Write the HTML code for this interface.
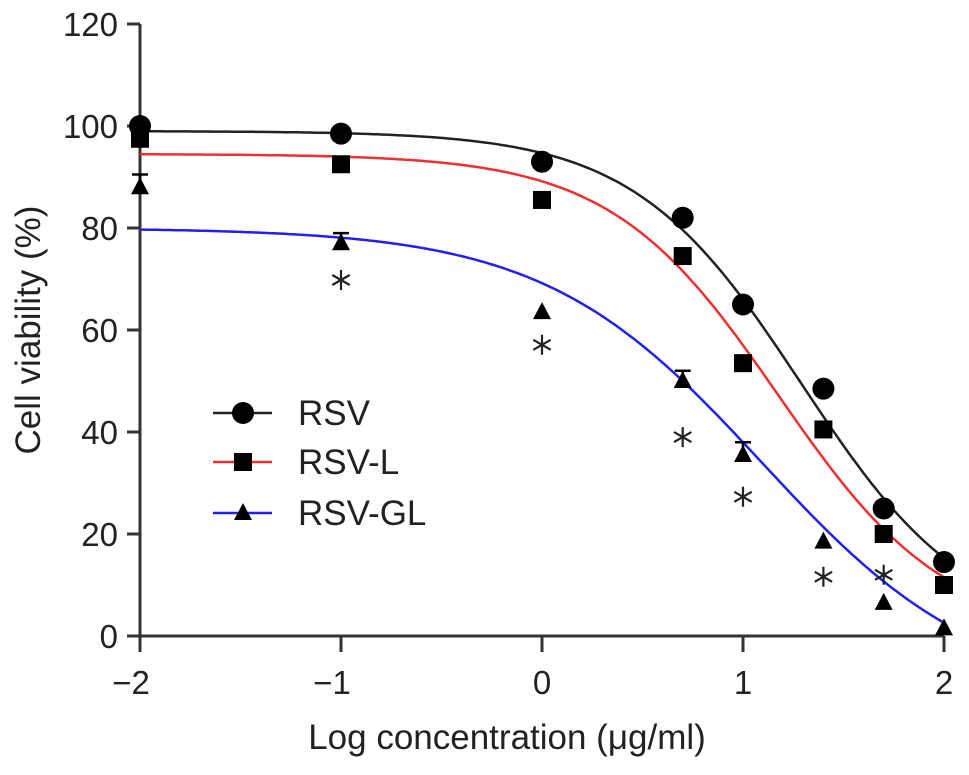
<!DOCTYPE html>
<html><head><meta charset="utf-8"><style>
body{margin:0;background:#fff}
svg text{font-family:"Liberation Sans",sans-serif;fill:#222}
</style></head><body>
<svg id="chart" width="969" height="770" viewBox="0 0 969 770" xmlns="http://www.w3.org/2000/svg">
<g id="axes"></g>
<g id="plot"></g>
<g id="legend"></g>
</svg>
<script>
const xCats = [-2, -1, 0, 0.7, 1, 1.4, 1.7, 2];
const rsvVals = [100, 98.5, 93, 82, 65, 48.5, 25, 14.5];
const rsvLVals = [97.5, 92.5, 85.5, 74.5, 53.5, 40.5, 20, 10];
const rsvGLVals = [88, 77, 63.5, 50, 35.5, 18.5, 6.5, 1.5];
const rsvGLErr = [2.5, 2, 0, 2, 2.5, 0, 0, 0];
const rsvFit = [99, 0, 1.29, 1.04];
const rsvLFit = [94.5, 0, 1.175, 1.04];
const rsvGLFit = [80, -12, 1.094, 0.8];
const starX = [-1, 0, 0.7, 1, 1.4, 1.7];
const starVals = [69.8, 57.1, 39, 27.3, 11.6, 12];
const yTicks = [0, 20, 40, 60, 80, 100, 120];
const xTicks = [-2, -1, 0, 1, 2];
const xTickLabels = ['\u22122', '\u22121', '0', '1', '2'];

const NS = 'http://www.w3.org/2000/svg';
const X = v => 140 + (v + 2) * 201;
const Y = v => 636 - v * 5.1;
function mk(tag, attrs, parent, text) {
  const e = document.createElementNS(NS, tag);
  for (const k in attrs) e.setAttribute(k, attrs[k]);
  if (text !== undefined) e.textContent = text;
  parent.appendChild(e);
  return e;
}
const axes = document.getElementById('axes');
const plot = document.getElementById('plot');
const legend = document.getElementById('legend');

let el = mk('line', {x1:140, y1:Y(120), x2:140, y2:636, stroke:'#333', 'stroke-width':3}, axes);


el = mk('line', {x1:140, y1:636, x2:944, y2:636, stroke:'#333', 'stroke-width':3}, axes);


yTicks.forEach(t => {
  let tk = mk('line', {x1:127, y1:Y(t), x2:140, y2:Y(t), stroke:'#333', 'stroke-width':3}, axes);
  
  
  let lb = mk('text', {x:118, y:Y(t) + 12, 'text-anchor':'end', 'font-size':33}, axes, String(t));
  
  
});
xTicks.forEach((t, i) => {
  let tk = mk('line', {x1:X(t), y1:636, x2:X(t), y2:652, stroke:'#333', 'stroke-width':3}, axes);
  
  
  let lb = mk('text', {x:X(t) - (t < 0 ? 9 : 0), y:694, 'text-anchor':'middle', 'font-size':33}, axes, xTickLabels[i]);
  
  
});
el = mk('text', {x:507, y:749, 'text-anchor':'middle', 'font-size':35}, axes, 'Log concentration (\u03bcg/ml)');


el = mk('text', {x:40, y:330, 'text-anchor':'middle', 'font-size':35, transform:'rotate(-90 40 330)'}, axes, 'Cell viability (%)');



function curve(p, color, name) {
  const [top, bot, c, h] = p;
  let d = '';
  for (let i = 0; i <= 200; i++) {
    const x = -2 + 4 * i / 200;
    const y = bot + (top - bot) / (1 + Math.pow(10, (x - c) * h));
    d += (i ? 'L' : 'M') + X(x).toFixed(1) + ',' + Y(y).toFixed(1);
  }
  const e = mk('path', {d:d, fill:'none', stroke:color, 'stroke-width':2.5}, plot);
  
  
}
curve(rsvFit, '#222', 'rsv-fit-curve');
curve(rsvLFit, '#f03030', 'rsv-l-fit-curve');
curve(rsvGLFit, '#2020f0', 'rsv-gl-fit-curve');

function marker(type, cx, cy, parent) {
  let e;
  if (type === 'circle') e = mk('circle', {cx:cx, cy:cy, r:11, fill:'#000'}, parent);
  else if (type === 'square') e = mk('rect', {x:cx - 9, y:cy - 9, width:18, height:18, fill:'#000'}, parent);
  else e = mk('polygon', {points:`${cx},${cy - 10} ${cx - 9},${cy + 7} ${cx + 9},${cy + 7}`, fill:'#000'}, parent);
  return e;
}
xCats.forEach((x, i) => {
  if (rsvGLErr[i] > 0) {
    const yt = Y(rsvGLVals[i] + rsvGLErr[i]);
    let eb = mk('path', {d:`M${X(x)},${Y(rsvGLVals[i])}V${yt}M${X(x) - 8},${yt}H${X(x) + 8}`, stroke:'#000', 'stroke-width':2.5, fill:'none'}, plot);
    
    
  }
});
xCats.forEach((x, i) => {
  let m = marker('circle', X(x), Y(rsvVals[i]), plot);
  
  
  m = marker('square', X(x), Y(rsvLVals[i]), plot);
  
  
  m = marker('tri', X(x), Y(rsvGLVals[i]), plot);
  
  
});
starX.forEach((x, i) => {
  const cx = X(x), cy = Y(starVals[i]), r = 10;
  let d = '';
  [90, 30, 150].forEach(a => {
    const dx = r * Math.cos(a * Math.PI / 180), dy = r * Math.sin(a * Math.PI / 180);
    d += `M${(cx - dx).toFixed(1)},${(cy - dy).toFixed(1)}L${(cx + dx).toFixed(1)},${(cy + dy).toFixed(1)}`;
  });
  let s = mk('path', {d:d, stroke:'#222', 'stroke-width':2.2, fill:'none'}, plot);
  
  
});

const legItems = [['RSV', '#222', 'circle', 413], ['RSV-L', '#f03030', 'square', 462], ['RSV-GL', '#2020f0', 'tri', 513]];
legItems.forEach(([lab, col, type, y]) => {
  const g = mk('g', {}, legend);
  
  
  mk('line', {x1:213, y1:y, x2:272, y2:y, stroke:col, 'stroke-width':2.5}, g);
  marker(type, 243, y, g);
  mk('text', {x:298, y:y + 12, 'font-size':35}, g, lab);
});
</script>
</body></html>
